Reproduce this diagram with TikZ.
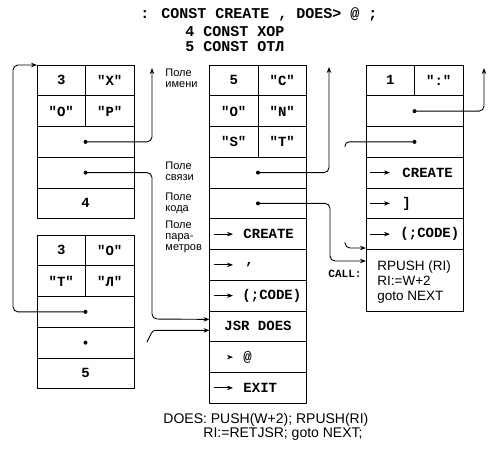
\documentclass[tikz,border=0pt]{standalone}
\usepackage{fontspec}
\setmainfont{Liberation Sans}
\newfontfamily\forthfont{Liberation Mono}
\usetikzlibrary{arrows.meta}

\begin{document}
\begin{tikzpicture}[x=1pt,y=-1pt,line width=0.9pt,line join=round,
	cell/.style={draw,minimum width=97pt,minimum height=30.75pt,inner sep=0pt,outer sep=0pt,font=\forthfont\bfseries\fontsize{14}{16}\selectfont},
	half/.style={cell,minimum width=48.5pt},
	forth/.style={inner sep=0pt,anchor=west,font=\forthfont\bfseries\fontsize{14}{16}\selectfont},
	lbl/.style={anchor=north west,align=left,inner sep=0pt,font=\fontsize{11}{11}\selectfont},
	ptr/.style={-{Stealth[length=6pt,width=4.5pt]},rounded corners=5pt},
	sarr/.style={-{Stealth[length=6pt,width=4.5pt]}}]
	\useasboundingbox (0,0) rectangle (496,451);
	% source text
	\node[forth,font=\forthfont\bfseries\fontsize{15}{16}\selectfont] (src1) at (140,14) {: CONST CREATE , DOES> @ ;};
	\node[forth,font=\forthfont\bfseries\fontsize{15}{16}\selectfont] (src2) at (185,32) {4 CONST ХОР};
	\node[forth,font=\forthfont\bfseries\fontsize{15}{16}\selectfont] (src3) at (185,47) {5 CONST ОТЛ};
	% word XOP
	\node[half] (hor-n1) at (61.25,80.375) {3};
	\node[half] (hor-c1) at (109.75,80.375) {"Х"};
	\node[half] (hor-c2) at (61.25,111.125) {"О"};
	\node[half] (hor-c3) at (109.75,111.125) {"Р"};
	\node[cell] (hor-l) at (85.5,141.875) {};
	\node[cell] (hor-k) at (85.5,172.625) {};
	\node[cell] (hor-p) at (85.5,203.375) {4};
	% word OTL
	\node[half] (otl-n1) at (61.25,250.375) {3};
	\node[half] (otl-c1) at (109.75,250.375) {"О"};
	\node[half] (otl-c2) at (61.25,281.125) {"Т"};
	\node[half] (otl-c3) at (109.75,281.125) {"Л"};
	\node[cell] (otl-l) at (85.5,311.875) {};
	\node[cell] (otl-k) at (85.5,342.625) {};
	\node[cell] (otl-p) at (85.5,373.375) {5};
	% word CONST
	\node[half] (mid-n1) at (233.75,80.375) {5};
	\node[half] (mid-c1) at (282.25,80.375) {"C"};
	\node[half] (mid-c2) at (233.75,111.125) {"O"};
	\node[half] (mid-c3) at (282.25,111.125) {"N"};
	\node[half] (mid-c4) at (233.75,141.875) {"S"};
	\node[half] (mid-c5) at (282.25,141.875) {"T"};
	\node[cell] (mid-l) at (258,172.625) {};
	\node[cell] (mid-k) at (258,203.375) {};
	\node[cell] (mid-p1) at (258,234.125) {};
	\node[cell] (mid-p2) at (258,264.875) {};
	\node[cell] (mid-p3) at (258,295.625) {};
	\node[cell] (mid-p4) at (258,326.375) {JSR DOES};
	\node[cell] (mid-p5) at (258,357.125) {};
	\node[cell] (mid-p6) at (258,387.875) {};
	\node[forth] (mid-t1) at (243,234.125) {CREATE};
	\node[forth] (mid-t2) at (245,264.875) {,};
	\node[forth] (mid-t3) at (242,295.625) {(;CODE)};
	\node[forth] (mid-t5) at (243,357.125) {@};
	\node[forth] (mid-t6) at (243,387.875) {EXIT};
	\draw[sarr] ([xshift=4pt]mid-p1.west) -- ([xshift=-10pt]mid-t1.west);
	\draw[sarr] ([xshift=4pt]mid-p2.west) -- ([xshift=-12pt]mid-t2.west);
	\draw[sarr] ([xshift=4pt]mid-p3.west) -- ([xshift=-9pt]mid-t3.west);
	\draw[sarr] ([xshift=19pt]mid-p5.west) -- ([xshift=-10pt]mid-t5.west);
	\draw[sarr] ([xshift=4pt]mid-p6.west) -- ([xshift=-10pt]mid-t6.west);
	% word :
	\node[half] (col-n1) at (390.25,80.375) {1};
	\node[half] (col-c1) at (438.75,80.375) {":"};
	\node[cell] (col-l) at (414.5,111.125) {};
	\node[cell] (col-k) at (414.5,141.875) {};
	\node[cell] (col-p1) at (414.5,172.625) {};
	\node[cell] (col-p2) at (414.5,203.375) {};
	\node[cell] (col-p3) at (414.5,234.125) {};
	\node[cell,minimum height=61.5pt] (col-r) at (414.5,280.25) {};
	\node[anchor=west,align=left,inner sep=0pt,font=\fontsize{13.5}{15}\selectfont] (col-code) at (377,282) {RPUSH (RI)\\RI:=W+2\\goto NEXT};
	\node[forth] (col-t1) at (402,172.625) {CREATE};
	\node[forth] (col-t2) at (402,203.375) {]};
	\node[forth] (col-t3) at (400,234.125) {(;CODE)};
	\draw[sarr] ([xshift=4pt]col-p1.west) -- ([xshift=-12pt]col-t1.west);
	\draw[sarr] ([xshift=4pt]col-p2.west) -- ([xshift=-12pt]col-t2.west);
	\draw[sarr] ([xshift=4pt]col-p3.west) -- ([xshift=-10pt]col-t3.west);
	\node[forth,anchor=center,font=\forthfont\bfseries\fontsize{11}{12}\selectfont] (call) at (345,274) {CALL:};
	% field labels
	\node[lbl] (f-name) at (165,68) {Поле\\имени};
	\node[lbl] (f-link) at (165,161) {Поле\\связи};
	\node[lbl] (f-code) at (165,192) {Поле\\кода};
	\node[lbl] (f-parm) at (165,220) {Поле\\пара-\\метров};
	% pointers
	\coordinate (hor-up) at (152,68);
	\coordinate (mid-up) at (329,67);
	\coordinate (col-up) at (484,68);
	\coordinate (otl-tail) at (147,342);
	\coordinate (col-tail) at (345,147);
	\coordinate (col-head) at (345,242);
	\draw[ptr] (hor-l.center) -- (hor-up |- hor-l.center) -- (hor-up);
	\draw[ptr] (hor-k.center) -- (152,172.625) -- (152,319) -- ([yshift=7pt]mid-p4.west);
	\draw[ptr] (otl-l.center) -- (13,311.875) -- (13,65) -- (hor-n1.north west);
	\draw[ptr] (otl-tail) .. controls (151,334) and (152,330.4) .. (160,330.4) -- ([yshift=-4pt]mid-p4.west);
	\draw[ptr] (mid-l.center) -- (mid-up |- mid-l.center) -- (mid-up);
	\draw[ptr] (mid-k.center) -- (330,203.375) -- (330,261) -- (366,261);
	\draw[ptr] (col-l.center) -- (col-up |- col-l.center) -- (col-up);
	\draw[rounded corners=4pt] (col-k.center) -- (345,141.875) -- (col-tail);
	\draw[ptr] (col-head) -- (345,248) -- (366,248);
	% dots
	\fill (hor-l.center) circle (2pt);
	\fill (hor-k.center) circle (2pt);
	\fill (otl-l.center) circle (2pt);
	\fill (otl-k.center) circle (2pt);
	\fill (mid-l.center) circle (2pt);
	\fill (mid-k.center) circle (2pt);
	\fill (col-l.center) circle (2pt);
	\fill (col-k.center) circle (2pt);
	% DOES part
	\node[anchor=west,inner sep=0pt,font=\fontsize{14}{16}\selectfont] (does1) at (163,420) {DOES: PUSH(W+2); RPUSH(RI)};
	\node[anchor=west,inner sep=0pt,font=\fontsize{14}{16}\selectfont] (does2) at (203,434) {RI:=RETJSR; goto NEXT;};
\end{tikzpicture}
\end{document}
